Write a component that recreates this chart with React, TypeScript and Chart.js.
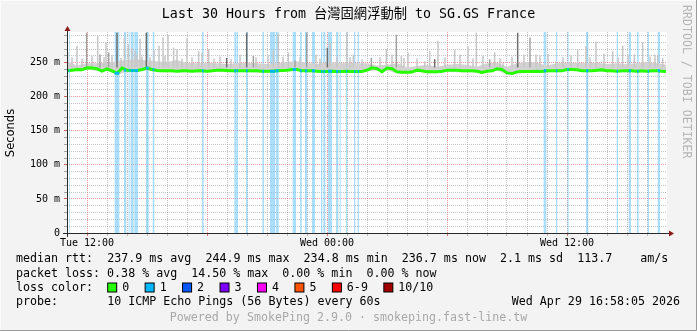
import { useEffect, useRef } from "react";
import { Chart, registerables } from "chart.js";

Chart.register(...registerables);

const CANVAS_W = 697;
const CANVAS_H = 331;
const Y_MAX = 295; // ms, top of the plot
const X_MAX = 1800; // minutes after Tue 11:00 (30 hours)
const MONO = "'DejaVu Sans Mono', 'Noto Sans CJK TC', monospace";
const SANS = "'DejaVu Sans', sans-serif";

// ---------- text ----------
const titleText = "Last 30 Hours from 台灣固網浮動制 to SG.GS France";
const yAxisTitle = "Seconds";
const watermarkText = "RRDTOOL / TOBI OETIKER";
const xLabelMinutes = [60, 780, 1500];
const xLabelTexts = ["Tue 12:00", "Wed 00:00", "Wed 12:00"];
const medianRttTexts = ["median rtt:", "237.9 ms avg", "244.9 ms max", "234.8 ms min", "236.7 ms now", "2.1 ms sd", "113.7", "am/s"];
const packetLossText = "packet loss: 0.38 % avg  14.50 % max  0.00 % min  0.00 % now";
const lossColorTitle = "loss color:";
const lossColorLabels = ["0", "1", "2", "3", "4", "5", "6-9", "10/10"];
const lossColorValues = ["#26ff00", "#00b8ff", "#0059ff", "#7e00ff", "#ff00ff", "#ff5500", "#ff0000", "#a10000"];
const probeTitle = "probe:";
const probeText = "10 ICMP Echo Pings (56 Bytes) every 60s";
const dateText = "Wed Apr 29 16:58:05 2026";
const poweredText = "Powered by SmokePing 2.9.0 · smokeping.fast-line.tw";

// ---------- data (minutes after Tue 11:00, values in ms) ----------
// median rtt every 15 minutes
const medianRtt = [
  238, 239, 240, 239.5, 242.5, 242, 241, 237.5, 241, 238,
  234.5, 242, 239, 238.5, 238.5, 240, 242, 240, 238.5, 238,
  238, 238, 237.5, 238, 238, 237.5, 238, 238, 237.5, 238,
  239, 239, 238.5, 238, 238, 238, 238, 238, 238, 237.5,
  237.5, 237.5, 238, 238.5, 239, 240, 240, 238, 238, 238,
  237.5, 237, 237, 237.5, 237, 237, 237.5, 237, 237, 237,
  239, 242.5, 241, 236.8, 242, 241, 236.5, 236, 235.8, 236.2,
  239, 238, 236.5, 236.5, 236.5, 237.5, 239, 239, 239, 238,
  238, 238, 237.5, 235.5, 237.5, 238, 241, 240, 235, 234,
  236.5, 237, 237, 237, 237.5, 237, 238, 238, 238, 238,
  240, 240, 239.5, 238, 238, 238, 239, 239.5, 238, 238,
  237.5, 238, 238, 238, 237.5, 238, 237.5, 238, 238, 237.5,
  237,
];
// smoke envelope every 30 minutes
const smokeLow = [
  236, 238, 240, 238, 238, 232, 237, 236, 239, 236,
  236, 235.5, 236, 235.5, 235.5, 237, 236, 236, 236, 235.5,
  235.5, 236, 237, 238, 236, 235.5, 235, 235, 235.5, 235,
  237, 239, 239, 234.5, 234, 237, 234.5, 234.5, 237, 236,
  236, 235.5, 235.5, 238.5, 233, 234.5, 235, 235.5, 236, 236,
  238, 237.5, 236, 237, 236, 235.5, 236, 235.5, 235.5, 236,
  236,
];
const smokeHigh = [
  252, 246, 249, 249, 250, 252, 254, 255, 253, 252,
  251, 254, 250, 249, 250, 249, 248, 249, 250, 249,
  248, 249, 251, 252, 250, 248, 251, 250, 250, 249,
  249, 246, 247, 249, 243, 245, 247, 244, 247, 248,
  247, 244, 249, 250, 244, 249, 251, 250, 246, 249,
  250, 250, 249, 250, 248, 249, 248, 249, 251, 249,
  247,
];
// isolated high pings (smoke spikes)
const spikeMinutes = [
  2, 30, 59, 92, 117, 125, 150, 172, 184, 195, 204, 219, 238, 261, 276, 288, 303, 320, 330, 360,
  395, 405, 425, 479, 539, 559, 619, 634, 664, 684, 719, 781, 789, 839, 859, 913, 958, 988, 1003, 1023,
  1073, 1088, 1103, 1113, 1163, 1203, 1228, 1268, 1283, 1308, 1352, 1389, 1407, 1467, 1532, 1557, 1587, 1637, 1667, 1702,
  1727, 1772, 1787,
  15, 45, 75, 99, 111, 135, 162, 210, 225, 249, 294, 345, 375, 441, 459, 492, 519, 567, 603, 648,
  699, 747, 759, 810, 849, 885, 939, 975, 1011, 1050, 1134, 1179, 1218, 1248, 1299, 1335, 1371, 1419, 1443, 1488,
  1512, 1569, 1611, 1653, 1683, 1749, 1764,
];
const spikeTops = [
  265, 275, 294, 289, 280, 265, 294, 287, 277, 272, 267, 285, 294, 268, 275, 287, 291, 272, 270, 286,
  267, 265, 270, 257, 294, 260, 268, 292, 265, 253, 294, 272, 279, 294, 262, 257, 270, 291, 260, 265,
  252, 267, 255, 282, 269, 274, 294, 255, 265, 250, 294, 287, 262, 252, 269, 275, 281, 267, 275, 262,
  280, 262, 257,
  258, 256, 260, 262, 258, 261, 257, 262, 259, 258, 260, 256, 258, 256, 259, 255, 262, 258, 261, 259,
  258, 262, 256, 259, 258, 255, 258, 262, 257, 256, 258, 262, 256, 260, 257, 259, 262, 260, 263, 258,
  261, 258, 263, 258, 261, 259, 262,
];
const spikePings = [
  1, 1, 2, 1, 1, 2, 3, 1, 1, 1, 1, 1, 3, 1, 1, 1, 1, 1, 1, 1,
  1, 1, 1, 3, 3, 2, 1, 1, 1, 2, 2, 3, 1, 1, 1, 2, 1, 2, 1, 1,
  1, 1, 3, 1, 1, 1, 1, 2, 1, 1, 3, 2, 1, 1, 1, 1, 1, 1, 1, 1,
  1, 1, 1,
  1, 1, 1, 2, 1, 1, 1, 1, 1, 1, 1, 1, 1, 1, 1, 1, 1, 1, 1, 1,
  1, 1, 1, 1, 1, 1, 1, 1, 1, 1, 1, 1, 1, 1, 1, 1, 1, 1, 1, 1,
  1, 1, 1, 1, 1, 1, 1,
];
// packet loss intervals (1/10 lost)
const lossStart = [
  5, 143, 171, 185, 191, 202, 237, 257, 405, 502, 509, 537, 586, 609, 627, 677, 699, 714,
  735, 762, 769, 783, 807, 818, 837, 861, 872, 1430, 1467, 1501, 1557, 1649, 1685, 1710, 1742, 1772,
];
const lossEnd = [
  8, 157, 178, 188, 200, 213, 245, 262, 410, 507, 513, 542, 591, 625, 635, 687, 704, 721,
  744, 766, 775, 795, 814, 821, 841, 865, 876, 1438, 1471, 1505, 1564, 1653, 1692, 1715, 1746, 1779,
];

const MEDIAN_STEP = 15;
const SMOKE_STEP = 30;
const SPIKE_BASE = 243;

function buildData() {
  const medianPts = medianRtt.map((v, i) => ({ x: Math.min(i * MEDIAN_STEP, 1797), y: v }));
  const lowPts = smokeLow.map((v, i) => ({ x: Math.min(i * SMOKE_STEP, 1797), y: v }));
  const highPts = smokeHigh.map((v, i) => ({ x: Math.min(i * SMOKE_STEP, 1797), y: v }));
  const bandPts: any[] = [];
  const lossMedPts: any[] = [];
  lossStart.forEach((s, i) => {
    const e = lossEnd[i];
    bandPts.push({ x: s, y: 0 }, { x: s, y: Y_MAX }, { x: e, y: Y_MAX }, { x: e, y: 0 });
    const idx = Math.min(medianRtt.length - 1, Math.round((s + e) / 2 / MEDIAN_STEP));
    const m = medianRtt[idx];
    lossMedPts.push({ x: s, y: m }, { x: e, y: m }, { x: e, y: null });
  });
  const spikePts: any[] = [];
  spikeMinutes.forEach((t, i) => {
    spikePts.push({ x: t, y: SPIKE_BASE }, { x: t, y: spikeTops[i] }, { x: t, y: null });
  });
  return { medianPts, lowPts, highPts, bandPts, lossMedPts, spikePts };
}

const spikeShade = (p: number) => (p >= 3 ? "#6e6e6e" : p === 2 ? "#a2a2a2" : "#c6c6c6");

const decorPlugin = {
  id: "rrdDecor",
  beforeDraw(chart: any) {
    const { ctx, chartArea: a } = chart;
    ctx.save();
    ctx.fillStyle = "#f3f3f3";
    ctx.fillRect(0, 0, CANVAS_W, CANVAS_H);
    ctx.fillStyle = "#ffffff";
    ctx.fillRect(a.left, a.top, a.right - a.left, a.bottom - a.top);
    ctx.restore();
  },
  afterDraw(chart: any) {
    const { ctx, chartArea: a } = chart;
    ctx.save();
    // axes
    ctx.strokeStyle = "#2a2a2a";
    ctx.lineWidth = 1;
    ctx.beginPath();
    ctx.moveTo(a.left - 4, Math.round(a.bottom) + 0.5);
    ctx.lineTo(a.right + 4, Math.round(a.bottom) + 0.5);
    ctx.moveTo(Math.round(a.left) + 0.5, a.bottom + 4);
    ctx.lineTo(Math.round(a.left) + 0.5, a.top - 3);
    ctx.stroke();
    ctx.fillStyle = "#8b1a1a";
    const ax = Math.round(a.left) + 0.5;
    const ay = Math.round(a.bottom) + 0.5;
    ctx.beginPath();
    ctx.moveTo(ax - 3, a.top - 1);
    ctx.lineTo(ax + 3, a.top - 1);
    ctx.lineTo(ax, a.top - 6);
    ctx.closePath();
    ctx.fill();
    ctx.beginPath();
    ctx.moveTo(a.right + 2, ay - 3);
    ctx.lineTo(a.right + 2, ay + 3);
    ctx.lineTo(a.right + 7, ay);
    ctx.closePath();
    ctx.fill();

    // title
    ctx.fillStyle = "#000";
    ctx.font = `13.3px ${MONO}`;
    ctx.textAlign = "center";
    ctx.textBaseline = "middle";
    ctx.fillText(titleText, 348.5, 15);

    // y title
    ctx.save();
    ctx.translate(11, 133);
    ctx.rotate(-Math.PI / 2);
    ctx.font = `11.5px ${SANS}`;
    ctx.fillText(yAxisTitle, 0, 0);
    ctx.restore();

    // watermark
    ctx.save();
    ctx.translate(686, 5);
    ctx.rotate(Math.PI / 2);
    ctx.font = `11.6px ${MONO}`;
    ctx.textAlign = "left";
    ctx.fillStyle = "#b4b4b4";
    ctx.fillText(watermarkText, 0, 0);
    ctx.restore();

    // legend
    const cw = 7.015;
    const x0 = 16;
    ctx.font = `11.65px ${MONO}`;
    ctx.textAlign = "left";
    ctx.fillStyle = "#000";
    const cols = [0, 13, 27, 41, 55, 69, 80, 89];
    medianRttTexts.forEach((t, i) => ctx.fillText(t, x0 + cols[i] * cw, 259));
    ctx.fillText(packetLossText, x0, 273.5);
    ctx.fillText(lossColorTitle, x0, 287.5);
    let bx = x0 + 13 * cw;
    lossColorLabels.forEach((lab, i) => {
      ctx.fillStyle = lossColorValues[i];
      ctx.fillRect(bx + 0.5, 283, 9, 9);
      ctx.strokeStyle = "#000";
      ctx.strokeRect(bx + 0.5, 283, 9, 9);
      ctx.fillStyle = "#000";
      ctx.fillText(lab, bx + 15, 287.5);
      bx += 16.4 + (lab.length + 2) * cw;
    });
    ctx.fillText(probeTitle, x0, 301.5);
    ctx.fillText(probeText, x0 + 13 * cw, 301.5);
    ctx.textAlign = "right";
    ctx.fillText(dateText, 680, 301.5);
    ctx.textAlign = "center";
    ctx.fillStyle = "#a8a8a8";
    ctx.fillText(poweredText, 348.5, 318);

    // frame
    ctx.strokeStyle = "#9a9a9a";
    ctx.beginPath();
    ctx.moveTo(CANVAS_W - 0.5, 0);
    ctx.lineTo(CANVAS_W - 0.5, CANVAS_H - 0.5);
    ctx.lineTo(0, CANVAS_H - 0.5);
    ctx.stroke();
    ctx.strokeStyle = "#fcfcfc";
    ctx.beginPath();
    ctx.moveTo(0.5, CANVAS_H - 1);
    ctx.lineTo(0.5, 0.5);
    ctx.lineTo(CANVAS_W - 1, 0.5);
    ctx.stroke();
    ctx.restore();
  },
};

export default function App() {
  const ref = useRef<HTMLCanvasElement>(null);
  useEffect(() => {
    const canvas = ref.current;
    if (!canvas) return;
    const d = buildData();
    const xTicks: number[] = [];
    for (let t = 60; t < X_MAX; t += 60) xTicks.push(t);
    const yTicks: number[] = [];
    for (let v = 0; v < Y_MAX; v += 10) yTicks.push(v);

    const chart = new Chart(canvas, {
      type: "line",
      data: {
        datasets: [
          {
            label: "loss",
            data: d.bandPts,
            borderColor: "transparent",
            borderWidth: 0,
            backgroundColor: "rgba(100,195,245,0.55)",
            fill: "origin",
            pointRadius: 0,
            order: 10,
          },
          {
            label: "smokeLow",
            data: d.lowPts,
            borderColor: "transparent",
            borderWidth: 0,
            pointRadius: 0,
            fill: false,
            order: 9,
          },
          {
            label: "smokeHigh",
            data: d.highPts,
            borderColor: "transparent",
            borderWidth: 0,
            backgroundColor: "#d2d2d2",
            pointRadius: 0,
            fill: 1,
            order: 8,
          },
          {
            label: "spikes",
            data: d.spikePts,
            borderColor: "#c6c6c6",
            borderWidth: 1.5,
            pointRadius: 0,
            spanGaps: false,
            fill: false,
            segment: {
              borderColor: (c: any) => spikeShade(spikePings[Math.floor(c.p0DataIndex / 3)]),
            },
            order: 7,
          },
          {
            label: "median",
            data: d.medianPts,
            borderColor: "#26ff00",
            borderWidth: 3,
            pointRadius: 0,
            fill: false,
            order: 6,
          },
          {
            label: "medianLoss",
            data: d.lossMedPts,
            borderColor: "#00b8ff",
            borderWidth: 3,
            pointRadius: 0,
            spanGaps: false,
            fill: false,
            order: 5,
          },
        ],
      } as any,
      options: {
        animation: false,
        responsive: false,
        devicePixelRatio: 1,
        events: [],
        layout: { padding: { top: 32, right: 30, left: 0, bottom: 0 } },
        plugins: { legend: { display: false }, tooltip: { enabled: false }, title: { display: false } },
        scales: {
          x: {
            type: "linear",
            min: 0,
            max: X_MAX,
            afterBuildTicks: (s: any) => {
              s.ticks = xTicks.map((v) => ({ value: v }));
            },
            afterFit: (s: any) => {
              s.height = 98;
            },
            grid: {
              color: (c: any) => ((c.tick?.value - 60) % 360 === 0 ? "rgba(240,90,90,0.6)" : "rgba(150,150,150,0.55)"),
              lineWidth: 1,
              tickLength: 3,
              tickColor: (c: any) => ((c.tick?.value - 60) % 360 === 0 ? "rgba(200,60,60,0.7)" : "rgba(150,150,150,0.6)"),
            },
            border: { display: false, dash: [1, 1] },
            ticks: {
              autoSkip: false,
              maxRotation: 0,
              minRotation: 0,
              padding: 1,
              color: "#000",
              font: { family: MONO, size: 10 },
              callback: (v: any) => {
                const i = xLabelMinutes.indexOf(Number(v));
                return i >= 0 ? xLabelTexts[i] : "";
              },
            },
          },
          y: {
            type: "linear",
            min: 0,
            max: Y_MAX,
            afterBuildTicks: (s: any) => {
              s.ticks = yTicks.map((v) => ({ value: v }));
            },
            afterFit: (s: any) => {
              s.width = 67;
            },
            grid: {
              color: (c: any) => {
                const v = c.tick?.value;
                if (v === 0) return "transparent";
                return v % 50 === 0 ? "rgba(240,90,90,0.6)" : "rgba(150,150,150,0.55)";
              },
              lineWidth: 1,
              tickLength: 3,
              tickColor: (c: any) => (c.tick?.value % 50 === 0 ? "rgba(200,60,60,0.8)" : "rgba(130,130,130,0.7)"),
            },
            border: { display: false, dash: [1, 1] },
            ticks: {
              autoSkip: false,
              padding: 4,
              color: "#000",
              font: { family: MONO, size: 10 },
              callback: (v: any) => {
                const n = Number(v);
                if (n % 50 !== 0) return "";
                return n === 0 ? "0" : `${n} m`;
              },
            },
          },
        },
      } as any,
      plugins: [decorPlugin],
    });
    return () => chart.destroy();
  }, []);

  return (
    <div style={{ position: "fixed", left: 0, top: 0, width: CANVAS_W, height: CANVAS_H }}>
      <canvas ref={ref} width={CANVAS_W} height={CANVAS_H} style={{ display: "block", width: CANVAS_W, height: CANVAS_H }} />
    </div>
  );
}
